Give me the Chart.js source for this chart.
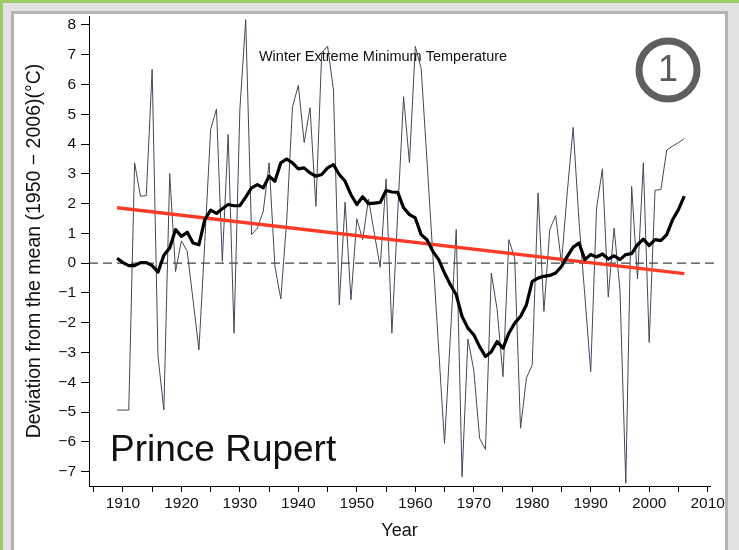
<!DOCTYPE html>
<html>
<head>
<meta charset="utf-8">
<script src="https://cdn.jsdelivr.net/npm/chart.js@4.4.1/dist/chart.umd.min.js"></script>
<style>
  html, body { margin: 0; padding: 0; }
  body { width: 739px; height: 550px; overflow: hidden; position: relative; background: #e2e2e2; }
  .edge { position: absolute; left: 0; top: 0; width: 739px; height: 550px; box-sizing: border-box;
          border-top: 3px solid #9dca6a; border-left: 3px solid #9dca6a; }
  .panel { position: absolute; left: 11px; top: 11px; width: 717px; height: 545px; box-sizing: border-box;
           background: #fff; border: 3px solid #b4b4b4; }
  #wrap { position: absolute; left: 0; top: 0; width: 739px; height: 550px; }
</style>
</head>
<body>
<div class="edge"></div>
<div class="panel"></div>
<div id="wrap"><canvas id="chart"></canvas></div>
<script>
// years of the record
const years = [
  1909, 1910, 1911, 1912, 1913, 1914, 1915, 1916, 1917, 1918, 1919, 1920, 1921, 1922, 1923, 1924, 1925,
  1926, 1927, 1928, 1929, 1930, 1931, 1932, 1933, 1934, 1935, 1936, 1937, 1938, 1939, 1940, 1941, 1942,
  1943, 1944, 1945, 1946, 1947, 1948, 1949, 1950, 1951, 1952, 1953, 1954, 1955, 1956, 1957, 1958, 1959,
  1960, 1961, 1962, 1963, 1964, 1965, 1966, 1967, 1968, 1969, 1970, 1971, 1972, 1973, 1974, 1975, 1976,
  1977, 1978, 1979, 1980, 1981, 1982, 1983, 1984, 1985, 1986, 1987, 1988, 1989, 1990, 1991, 1992, 1993,
  1994, 1995, 1996, 1997, 1998, 1999, 2000, 2001, 2002, 2003, 2004, 2005, 2006
];

// yearly anomaly (thin line)
const annual = [
  -4.93, -4.93, -4.93, 3.37, 2.25, 2.27, 6.51, -3.13, -4.93, 3.01, -0.28, 0.75, 0.40, -1.25, -2.91, 0.70, 4.49,
  5.18, 0.06, 4.32, -2.35, 5.16, 8.18, 0.96, 1.18, 1.74, 3.37, -0.11, -1.20, 1.40, 5.25, 5.97, 4.05, 5.22,
  1.91, 7.07, 7.29, 5.84, -1.40, 2.05, -1.23, 1.49, 0.79, 2.15, 1.00, -0.14, 2.83, -2.35, 1.70, 5.59, 3.37,
  7.28, 6.55, 3.45, 0.28, -2.88, -6.05, -2.46, 1.13, -7.17, -2.55, -3.58, -5.88, -6.25, -0.33, -1.56, -3.81, 0.79,
  0.17, -5.54, -3.86, -3.41, 2.36, -1.62, 1.13, 1.60, 0.00, 2.40, 4.56, 1.40, -1.10, -3.64, 1.85, 3.17, -1.14,
  1.18, -0.89, -7.39, 2.58, -0.53, 3.37, -2.66, 2.45, 2.47, 3.80, 3.93, 4.05, 4.18
];

// smoothed anomaly (thick black line)
const smooth = [
  0.17, 0.02, -0.08, -0.08, 0.02, 0.02, -0.08, -0.30, 0.27, 0.51, 1.13, 0.90, 1.04, 0.68, 0.62, 1.46, 1.78,
  1.67, 1.83, 1.97, 1.93, 1.93, 2.22, 2.53, 2.64, 2.53, 2.92, 2.75, 3.37, 3.50, 3.37, 3.17, 3.20, 3.03,
  2.92, 2.98, 3.20, 3.31, 2.98, 2.75, 2.30, 1.97, 2.23, 2.00, 2.02, 2.04, 2.44, 2.39, 2.38, 1.86, 1.63,
  1.52, 0.96, 0.79, 0.40, 0.12, -0.33, -0.72, -1.06, -1.79, -2.18, -2.40, -2.80, -3.13, -2.97, -2.63, -2.85, -2.35,
  -2.01, -1.79, -1.40, -0.61, -0.50, -0.44, -0.41, -0.33, -0.11, 0.23, 0.54, 0.68, 0.12, 0.29, 0.21, 0.31, 0.14,
  0.25, 0.12, 0.29, 0.32, 0.62, 0.81, 0.59, 0.79, 0.76, 0.96, 1.46, 1.80, 2.25
];

// linear trend end points (red line)
const trendYears = [1909, 2006];
const trendValues = [1.86, -0.35];

// axis ticks
const xTicks = [1905, 1910, 1915, 1920, 1925, 1930, 1935, 1940, 1945, 1950, 1955, 1960, 1965,
                1970, 1975, 1980, 1985, 1990, 1995, 2000, 2005, 2010];
const xLabelled = [1910, 1920, 1930, 1940, 1950, 1960, 1970, 1980, 1990, 2000, 2010];
const yTicks = [-7, -6, -5, -4, -3, -2, -1, 0, 1, 2, 3, 4, 5, 6, 7, 8];

const FONT = "'Liberation Sans', Arial, Helvetica, sans-serif";

const toXY = (xs, ys) => xs.map((x, i) => ({ x: x, y: ys[i] }));

// dashed zero line, headings and the station badge
const decorPlugin = {
  id: 'decor',
  beforeDatasetsDraw(chart) {
    const { ctx, chartArea, scales } = chart;
    const y0 = scales.y.getPixelForValue(0);
    ctx.save();
    ctx.strokeStyle = '#444';
    ctx.lineWidth = 1.2;
    ctx.setLineDash([9, 5]);
    ctx.beginPath();
    ctx.moveTo(chartArea.left, y0);
    ctx.lineTo(chartArea.right + 4, y0);
    ctx.stroke();
    ctx.restore();
  },
  afterDraw(chart) {
    const { ctx, chartArea } = chart;
    ctx.save();
    ctx.fillStyle = '#111';
    ctx.textAlign = 'center';
    ctx.textBaseline = 'middle';
    ctx.font = '14.5px ' + FONT;
    ctx.fillText('Winter Extreme Minimum Temperature', chartArea.left + 294, chartArea.top + 41);

    ctx.textAlign = 'left';
    ctx.textBaseline = 'alphabetic';
    ctx.font = '37px ' + FONT;
    ctx.fillText('Prince Rupert', chartArea.left + 21, chartArea.top + 445);

    // circled number
    const cx = chartArea.left + 579, cy = chartArea.top + 54;
    ctx.strokeStyle = '#5f5f5f';
    ctx.lineWidth = 7;
    ctx.beginPath();
    ctx.arc(cx, cy, 29, 0, Math.PI * 2);
    ctx.stroke();
    ctx.fillStyle = '#5a5a5a';
    ctx.textAlign = 'center';
    ctx.textBaseline = 'middle';
    ctx.font = '36px ' + FONT;
    ctx.fillText('1', cx, cy + 1);
    ctx.restore();
  }
};

new Chart(document.getElementById('chart'), {
  type: 'line',
  data: {
    datasets: [
      {
        label: 'annual',
        data: toXY(years, annual),
        borderColor: '#414858',
        borderWidth: 1,
        pointRadius: 0,
        tension: 0,
        order: 3
      },
      {
        label: 'trend',
        data: toXY(trendYears, trendValues),
        borderColor: '#ff3a26',
        borderWidth: 3.5,
        pointRadius: 0,
        order: 2
      },
      {
        label: 'smoothed',
        data: toXY(years, smooth),
        borderColor: '#000',
        borderWidth: 3.2,
        pointRadius: 0,
        tension: 0,
        borderJoinStyle: 'round',
        order: 1
      }
    ]
  },
  plugins: [decorPlugin],
  options: {
    responsive: true,
    maintainAspectRatio: false,
    animation: false,
    layout: { padding: { left: 19, top: 16, right: 29, bottom: 4 } },
    plugins: {
      legend: { display: false },
      tooltip: { enabled: false },
      title: { display: false }
    },
    scales: {
      x: {
        type: 'linear',
        min: 1904.2,
        max: 2010.4,
        afterBuildTicks: (scale) => { scale.ticks = xTicks.map(v => ({ value: v })); },
        afterFit: (scale) => { scale.height = 60; },
        grid: { display: true, drawOnChartArea: false, drawTicks: true, tickLength: 6, color: '#000' },
        border: { display: true, color: '#000', width: 1 },
        ticks: {
          autoSkip: false,
          maxRotation: 0,
          padding: 2,
          color: '#111',
          font: { family: FONT, size: 15.5 },
          callback: (v) => (xLabelled.includes(v) ? String(v) : '')
        },
        title: {
          display: true,
          text: 'Year',
          color: '#111',
          font: { family: FONT, size: 18 },
          padding: { top: 0, bottom: 4 }
        }
      },
      y: {
        min: -7.48,
        max: 8.3,
        afterBuildTicks: (scale) => { scale.ticks = yTicks.map(v => ({ value: v })); },
        afterFit: (scale) => { scale.width = 70; },
        grid: { display: true, drawOnChartArea: false, drawTicks: true, tickLength: 8, color: '#000' },
        border: { display: true, color: '#000', width: 1 },
        ticks: {
          padding: 5,
          color: '#111',
          font: { family: FONT, size: 15.5 },
          callback: (v) => (v < 0 ? '\u2212' + Math.abs(v) : String(v))
        },
        title: {
          display: true,
          text: 'Deviation from the mean (1950 \u2212 2006)(\u00B0C)',
          color: '#111',
          font: { family: FONT, size: 19.5 },
          padding: { top: 4, bottom: 0 }
        }
      }
    }
  }
});
</script>
</body>
</html>
